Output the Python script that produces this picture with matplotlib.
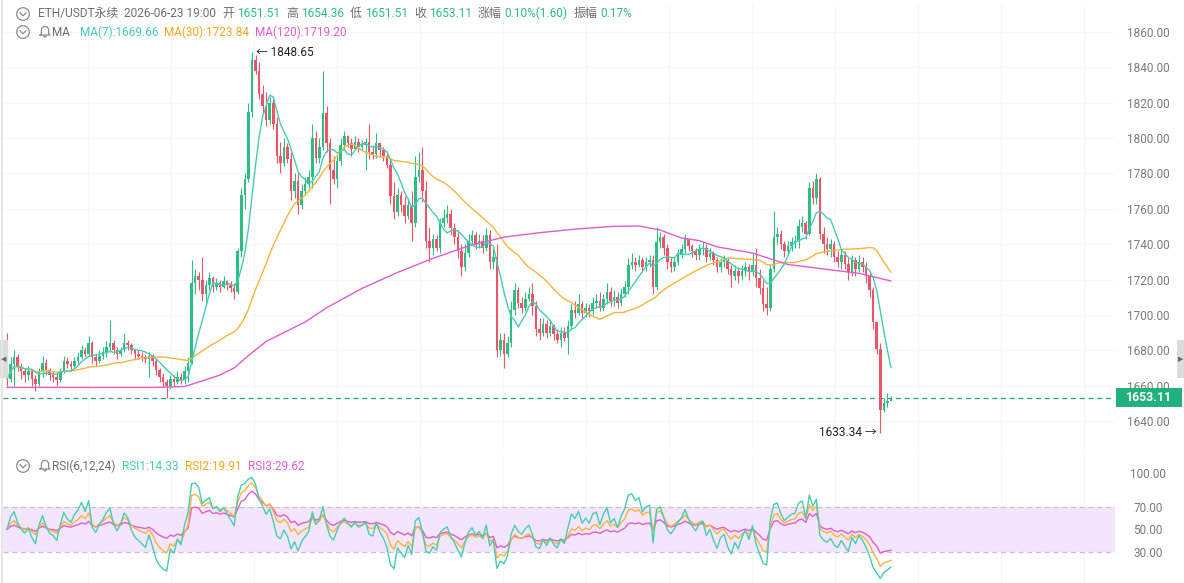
import numpy as np
import pandas as pd
import matplotlib
matplotlib.use('Agg')
import matplotlib.pyplot as plt
from matplotlib.patches import Rectangle, Circle
from matplotlib.lines import Line2D

plt.rcParams['font.family'] = ['Roboto', 'Noto Sans CJK SC', 'DejaVu Sans']

# ---------------- data ----------------
first_open = 1680.0
closes = [
    1664, 1672, 1676, 1671, 1668, 1666, 1668, 1664, 1661, 1668,
    1673, 1669, 1666, 1665, 1663, 1668, 1674, 1672, 1671, 1674,
    1676, 1680, 1678, 1684, 1676, 1674, 1677, 1679, 1682, 1684,
    1680, 1678, 1680, 1684, 1683, 1680, 1678, 1677, 1676, 1675,
    1677, 1674, 1669, 1665, 1662, 1660, 1664, 1662, 1665, 1663,
    1668, 1673, 1718, 1722, 1720, 1712, 1717, 1721, 1716, 1718,
    1716, 1719, 1717, 1715, 1713, 1736, 1768, 1777, 1815, 1844,
    1838, 1825, 1818, 1810, 1820, 1808, 1790, 1786, 1795, 1788,
    1770, 1776, 1762, 1770, 1774, 1778, 1800, 1789, 1795, 1814,
    1797, 1782, 1777, 1787, 1796, 1801, 1797, 1794, 1798, 1795,
    1796, 1798, 1792, 1791, 1797, 1793, 1790, 1785, 1767, 1758,
    1768, 1762, 1756, 1762, 1752, 1778, 1782, 1770, 1742, 1738,
    1743, 1738, 1752, 1755, 1757, 1749, 1744, 1736, 1727, 1735,
    1742, 1745, 1740, 1742, 1738, 1745, 1730, 1733, 1680, 1686,
    1678, 1684, 1703, 1714, 1707, 1704, 1709, 1712, 1705, 1692,
    1690, 1695, 1690, 1694, 1689, 1686, 1690, 1687, 1694, 1703,
    1701, 1706, 1701, 1704, 1702, 1707, 1708, 1704, 1709, 1713,
    1708, 1710, 1707, 1712, 1716, 1728, 1730, 1728, 1731, 1727,
    1730, 1731, 1716, 1741, 1744, 1738, 1730, 1727, 1730, 1734,
    1737, 1743, 1739, 1736, 1734, 1737, 1738, 1733, 1735, 1731,
    1727, 1730, 1731, 1726, 1722, 1725, 1722, 1725, 1727, 1724,
    1728, 1721, 1715, 1706, 1704, 1726, 1744, 1746, 1740, 1736,
    1739, 1741, 1742, 1750, 1752, 1746, 1772, 1766, 1777, 1746,
    1740, 1737, 1740, 1733, 1730, 1734, 1729, 1724, 1731, 1726,
    1730, 1727, 1722, 1714, 1696, 1681, 1646, 1650, 1651.51, 1653.11,
]
highs = [
    1690, 1676, 1680, 1678, 1673, 1670, 1671, 1669, 1666, 1670,
    1677, 1675, 1670, 1668, 1667, 1670, 1677, 1676, 1674, 1676,
    1679, 1683, 1682, 1688, 1685, 1678, 1680, 1682, 1685, 1697,
    1686, 1682, 1682, 1690, 1686, 1684, 1681, 1680, 1679, 1678,
    1679, 1678, 1675, 1670, 1667, 1664, 1666, 1666, 1668, 1667,
    1671, 1676, 1731, 1726, 1724, 1733, 1720, 1724, 1722, 1721,
    1720, 1722, 1720, 1719, 1718, 1738, 1772, 1780, 1820, 1848.65,
    1847, 1843, 1830, 1826, 1823, 1822, 1812, 1798, 1800, 1797,
    1792, 1780, 1780, 1774, 1778, 1782, 1808, 1804, 1800, 1838,
    1818, 1800, 1790, 1790, 1800, 1804, 1802, 1800, 1801, 1800,
    1799, 1800, 1808, 1796, 1803, 1797, 1795, 1791, 1789, 1775,
    1772, 1770, 1767, 1766, 1770, 1790, 1792, 1795, 1776, 1750,
    1746, 1745, 1755, 1760, 1762, 1760, 1752, 1748, 1740, 1740,
    1746, 1748, 1747, 1746, 1745, 1749, 1748, 1738, 1740, 1690,
    1690, 1688, 1708, 1718, 1716, 1710, 1713, 1716, 1718, 1708,
    1698, 1698, 1697, 1697, 1695, 1692, 1693, 1693, 1697, 1706,
    1708, 1712, 1708, 1707, 1706, 1710, 1712, 1713, 1712, 1718,
    1716, 1714, 1713, 1715, 1719, 1732, 1735, 1733, 1734, 1733,
    1733, 1734, 1734, 1750, 1747, 1746, 1740, 1733, 1733, 1737,
    1740, 1746, 1743, 1740, 1738, 1740, 1741, 1740, 1738, 1736,
    1733, 1732, 1734, 1733, 1728, 1728, 1727, 1728, 1730, 1729,
    1735, 1738, 1726, 1720, 1716, 1729, 1759, 1750, 1748, 1742,
    1742, 1744, 1745, 1754, 1756, 1753, 1775, 1776, 1780, 1778,
    1750, 1744, 1743, 1742, 1736, 1737, 1736, 1732, 1734, 1733,
    1734, 1733, 1730, 1725, 1716, 1695, 1684, 1653, 1656, 1654.36,
]
lows = [
    1660, 1662, 1660, 1668, 1664, 1662, 1663, 1660, 1657, 1660,
    1665, 1666, 1663, 1662, 1660, 1662, 1667, 1670, 1668, 1670,
    1672, 1675, 1676, 1677, 1673, 1671, 1673, 1675, 1676, 1679,
    1678, 1675, 1677, 1679, 1680, 1678, 1675, 1675, 1674, 1673,
    1665, 1671, 1666, 1662, 1659, 1653, 1658, 1660, 1661, 1661,
    1661, 1662, 1672, 1712, 1714, 1708, 1707, 1714, 1713, 1714,
    1713, 1715, 1714, 1713, 1709, 1712, 1733, 1760, 1775, 1812,
    1836, 1822, 1814, 1807, 1808, 1805, 1786, 1780, 1784, 1786,
    1765, 1766, 1757, 1760, 1768, 1772, 1772, 1786, 1786, 1793,
    1792, 1763, 1774, 1772, 1785, 1794, 1795, 1790, 1794, 1792,
    1793, 1782, 1788, 1788, 1789, 1790, 1787, 1783, 1763, 1754,
    1756, 1758, 1752, 1754, 1742, 1750, 1775, 1764, 1738, 1730,
    1734, 1736, 1735, 1750, 1752, 1745, 1740, 1732, 1722, 1725,
    1733, 1740, 1737, 1738, 1735, 1736, 1726, 1726, 1676, 1677,
    1670, 1676, 1682, 1700, 1704, 1701, 1702, 1708, 1700, 1688,
    1686, 1688, 1687, 1688, 1686, 1684, 1682, 1685, 1678, 1692,
    1698, 1700, 1698, 1699, 1699, 1700, 1704, 1702, 1702, 1706,
    1705, 1705, 1704, 1705, 1710, 1712, 1726, 1725, 1727, 1724,
    1725, 1727, 1712, 1714, 1738, 1734, 1726, 1724, 1725, 1728,
    1732, 1735, 1736, 1733, 1731, 1731, 1734, 1730, 1731, 1728,
    1724, 1724, 1727, 1723, 1716, 1720, 1718, 1720, 1722, 1720,
    1722, 1716, 1712, 1702, 1700, 1702, 1724, 1740, 1737, 1733,
    1734, 1736, 1738, 1738, 1747, 1743, 1745, 1763, 1763, 1743,
    1735, 1734, 1733, 1730, 1727, 1726, 1726, 1720, 1722, 1722,
    1724, 1724, 1718, 1710, 1692, 1678, 1633.34, 1645, 1648, 1651.51,
]
# MA(120) line (candle index -> value)
ma120_idx = [0, 14, 28, 42, 50, 54, 60, 64, 68, 73, 80, 84, 90, 100, 110,
             120, 130, 140, 150, 160, 170, 178, 184, 190, 195, 200, 210,
             220, 230, 240, 249]
ma120_val = [1659, 1659, 1659, 1659, 1659.5, 1662, 1666, 1670, 1677, 1685,
             1692, 1696, 1704, 1715, 1724, 1732, 1739, 1744, 1746.5, 1748.5,
             1750, 1750.3, 1748, 1743.5, 1742, 1738.5, 1735, 1728.5, 1726,
             1723.5, 1719.2]

price_ticks = [1640, 1660, 1680, 1700, 1720, 1740, 1760, 1780, 1800, 1820, 1840, 1860]
rsi_ticks = [30, 50, 70, 100]
last_price = 1653.11
max_price = 1848.65
min_price = 1633.34

header_items = [("ETH/USDT永续", 'g'), ("2026-06-23 19:00", 'g'),
                ("开", 'g'), ("1651.51", 'v'), ("高", 'g'), ("1654.36", 'v'),
                ("低", 'g'), ("1651.51", 'v'), ("收", 'g'), ("1653.11", 'v'),
                ("涨幅", 'g'), ("0.10%(1.60)", 'v'), ("振幅", 'g'), ("0.17%", 'v')]
ma_legend = ["MA(7):1669.66", "MA(30):1723.84", "MA(120):1719.20"]
rsi_legend = ["RSI1:14.33", "RSI2:19.91", "RSI3:29.62"]

# ---------------- styling ----------------
W, H = 1184, 583
UP = '#2ebd85'
DOWN = '#ee5467'
C_MA7 = '#45cdb4'
C_MA30 = '#f7b53c'
C_MA120 = '#e25bcf'
GRAY = '#7a7a7a'
LAB = '#6e6e6e'

fig = plt.figure(figsize=(W / 100, H / 100), dpi=100)
fig.patch.set_facecolor('white')

def px_axes(left, top, right, bottom):
    return fig.add_axes([left / W, 1 - bottom / H, (right - left) / W, (bottom - top) / H])

x0_idx = (3 - 7) / 3.55
x1_idx = (1115 - 7) / 3.55

ax = px_axes(3, 5, 1115, 450)
ppu = (421 - 32) / 220.0
ax.set_ylim(1640 - 29 / ppu, 1860 + 27 / ppu)
ax.set_xlim(x0_idx, x1_idx)

axr = px_axes(3, 455, 1115, 583)
rpu = (552 - 473) / 70.0
axr.set_ylim(100 - 110 / rpu, 100 + 18 / rpu)
axr.set_xlim(x0_idx, x1_idx)

grid_x = [(p - 7) / 3.55 for p in range(88, 1115, 83)]
for a in (ax, axr):
    for sp in a.spines.values():
        sp.set_visible(False)
    a.set_facecolor('white')
    a.set_xticks(grid_x)
    a.tick_params(axis='x', length=0, labelbottom=False)
    a.grid(True, axis='x', color='#f6f6f6', lw=0.8)
    a.yaxis.tick_right()
    a.tick_params(axis='y', length=0, pad=23.8, labelsize=8.5, labelcolor=GRAY)
    a.set_axisbelow(True)

ax.set_yticks(price_ticks)
ax.set_yticklabels([f"{v:.2f}" for v in price_ticks])
ax.grid(True, axis='y', color='#f7f7f7', lw=0.8)
axr.set_yticks(rsi_ticks)
axr.set_yticklabels([f"{v:.2f}" for v in rsi_ticks])
for a in (ax, axr):
    for lbl in a.get_yticklabels():
        lbl.set_horizontalalignment('center')

# ---------------- candles ----------------
c = np.array(closes, dtype=float)
o = np.array([first_open] + closes[:-1], dtype=float)
h = np.maximum(np.array(highs, dtype=float), np.maximum(o, c))
l = np.minimum(np.array(lows, dtype=float), np.minimum(o, c))
idx = np.arange(len(c))
col = np.where(c >= o, UP, DOWN)
ax.vlines(idx, l, h, colors=col, lw=0.8, zorder=3)
body_lo = np.minimum(o, c)
body_h = np.maximum(np.abs(c - o), 0.6)
ax.bar(idx, body_h, bottom=body_lo, width=0.72, color=col, lw=0, zorder=3)

s = pd.Series(c)
ma7 = s.rolling(7, min_periods=1).mean()
ma30 = s.rolling(30, min_periods=1).mean()
ax.plot(idx, ma30, color=C_MA30, lw=1.0, zorder=4)
ax.plot(ma120_idx, ma120_val, color=C_MA120, lw=1.0, zorder=4)
ax.plot(idx, ma7, color=C_MA7, lw=1.0, zorder=5)

ax.axhline(last_price, color='#1fa57a', lw=0.9, ls=(0, (4, 3)), zorder=2)

i_max = int(np.argmax(h))
i_min = int(np.argmin(l))
ax.annotate("← " + f"{max_price:.2f}", (i_max, max_price), xytext=(3, 0),
            textcoords='offset points', va='center', ha='left', fontsize=8.5, color='#222222')
ax.annotate(f"{min_price:.2f}" + " →", (i_min, min_price), xytext=(-3, 0),
            textcoords='offset points', va='center', ha='right', fontsize=8.5, color='#222222')

# ---------------- RSI (SMA(x,N,1) smoothing, neutral start) ----------------
def rsi(vals, n):
    seed = float(np.mean(np.abs(np.diff(vals))))
    up, ab = 0.5 * seed, seed
    out = []
    for i in range(len(vals)):
        d = vals[i] - vals[i - 1] if i > 0 else 0.0
        up = (max(d, 0.0) + (n - 1) * up) / n
        ab = (abs(d) + (n - 1) * ab) / n
        out.append(100.0 * up / ab)
    return np.array(out)

axr.axhspan(30, 70, color='#f3e6fc', lw=0, zorder=0.8)
axr.axhline(70, color='#c4c4c4', lw=0.9, ls=(0, (4, 3)), zorder=1)
axr.axhline(30, color='#c4c4c4', lw=0.9, ls=(0, (4, 3)), zorder=1)
axr.plot(idx, rsi(c, 24), color=C_MA120, lw=1.0, zorder=3)
axr.plot(idx, rsi(c, 12), color=C_MA30, lw=1.0, zorder=4)
axr.plot(idx, rsi(c, 6), color=C_MA7, lw=1.0, zorder=5)

# ---------------- overlay (header, icons, price box) ----------------
ov = fig.add_axes([0, 0, 1, 1])
ov.set_xlim(0, W)
ov.set_ylim(H, 0)
ov.axis('off')
ov.patch.set_alpha(0)
renderer = fig.canvas.get_renderer()

def text_w(t):
    return t.get_window_extent(renderer=renderer).width

def flow(items, x, y, gaps, fs):
    for (txt, cc), g in zip(items, gaps + [0]):
        t = ov.text(x, y, txt, fontsize=fs, va='center', ha='left', color=cc)
        x += text_w(t) + g
    return x

def circ_icon(cx, cy):
    ov.add_patch(Circle((cx, cy), 6.3, fill=False, ec='#8c8c8c', lw=0.9))
    ov.add_line(Line2D([cx - 3, cx, cx + 3], [cy - 1.2, cy + 1.8, cy - 1.2], color='#8c8c8c', lw=0.9))

def bell_icon(cx, cy):
    t = np.linspace(np.pi, 2 * np.pi, 20)
    xs = [cx - 5, cx - 3.6, cx - 3.6] + list(cx + 3.6 * np.cos(t)) + [cx + 3.6, cx + 3.6, cx + 5, cx - 5]
    ys = [cy + 4, cy + 2.5, cy - 1] + list(cy - 1 + 3.6 * np.sin(t)) + [cy - 1, cy + 2.5, cy + 4, cy + 4]
    ov.add_line(Line2D(xs, ys, color='#8c8c8c', lw=0.9))
    ov.add_line(Line2D([cx - 1.3, cx, cx + 1.3], [cy + 5, cy + 6, cy + 5], color='#8c8c8c', lw=0.9))

circ_icon(23, 14)
circ_icon(23, 32)
circ_icon(23, 466)
bell_icon(45, 31)
bell_icon(45, 465)

# header line: label->value gap 3px, group gap 6px
hdr = [(txt, UP if k == 'v' else LAB) for txt, k in header_items]
hgaps = []
for i in range(len(header_items) - 1):
    hgaps.append(3 if header_items[i][1] == 'g' and header_items[i + 1][1] == 'v' else 6)
flow(hdr, 38, 13.5, hgaps, 8.6)

ma_items = [("MA", LAB)] + list(zip(ma_legend, [C_MA7, '#f5a623', C_MA120]))
flow(ma_items, 52, 32, [10, 6, 6], 8.5)

rsi_items = [("RSI(6,12,24)", LAB)] + list(zip(rsi_legend, [C_MA7, '#f5a623', C_MA120]))
flow(rsi_items, 52, 466, [7, 6, 6], 8.5)

# current price box
fig.canvas.draw()
y_disp = ax.transData.transform((0, last_price))[1]
y_px = H - y_disp
ov.add_patch(Rectangle((1116, y_px - 9.5), 66, 19, color='#22b07d', lw=0, zorder=5))
ov.text(1149, y_px, f"{last_price:.2f}", color='white', fontsize=8.8, fontweight='bold',
        ha='center', va='center', zorder=6)

# edge tabs
ov.add_line(Line2D([2, 2], [0, H], color='#e6e6e6', lw=1.5))
ov.add_patch(Rectangle((0, 340), 8, 38, color='#dcdcdc', lw=0))
ov.text(4, 359, "◀", fontsize=5, ha='center', va='center', color='#666666', family='DejaVu Sans')
ov.add_patch(Rectangle((1177, 340), 7, 38, color='#dcdcdc', lw=0))
ov.text(1180.5, 359, "▶", fontsize=5, ha='center', va='center', color='#666666', family='DejaVu Sans')

fig.savefig('out.png', dpi=100, facecolor='white')
